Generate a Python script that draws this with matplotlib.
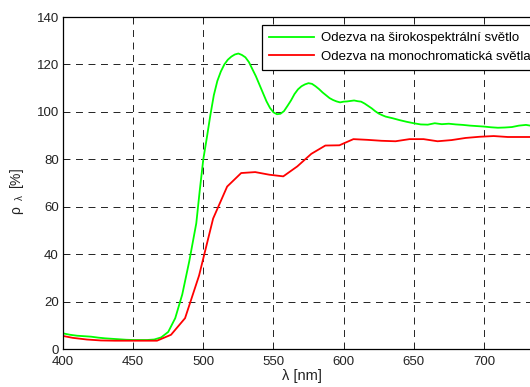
import matplotlib
matplotlib.use("Agg")
import matplotlib.pyplot as plt

plt.rcParams['font.family'] = ['Liberation Sans', 'DejaVu Sans']
plt.rcParams['mathtext.fontset'] = 'custom'
plt.rcParams['mathtext.rm'] = 'Liberation Sans'
plt.rcParams['mathtext.it'] = 'Liberation Sans'
plt.rcParams['lines.scale_dashes'] = False

# Broadband-light response (wavelength in nm, response in %)
wl_broad = [400, 405, 410, 415, 420, 425, 430, 435, 440, 445, 450, 455, 460, 465,
            470, 475, 480, 485, 490, 492.5, 495, 497.5, 500, 502.5, 505, 507.5,
            510, 512.5, 515, 517.5, 520, 522.5, 525, 527.5, 530, 532.5, 535,
            537.5, 540, 542.5, 545, 547.5, 550, 552.5, 555, 557.5, 560, 562.5,
            565, 567.5, 570, 572.5, 575, 577.5, 580, 582.5, 585, 587.5, 590,
            592.5, 595, 597.5, 600, 602.5, 605, 607.5, 610, 612.5, 615, 617.5,
            620, 622.5, 625, 627.5, 630, 635, 640, 645, 650, 655, 660, 665, 670,
            675, 680, 685, 690, 695, 700, 705, 710, 715, 720, 725, 730, 735, 740]
resp_broad = [6.6, 6.0, 5.6, 5.4, 5.2, 4.8, 4.5, 4.3, 4.1, 3.9, 3.8, 3.8, 3.8, 4.0,
              4.9, 7.2, 13.0, 23.0, 37.0, 45.0, 53.0, 67.0, 80.0, 89.0, 98.5, 107.0,
              113.0, 117.0, 120.0, 122.0, 123.3, 124.2, 124.6, 124.0, 123.0, 121.0, 118.0,
              115.0, 111.5, 108.0, 104.5, 101.7, 99.8, 99.0, 99.2, 100.3, 102.5, 104.8,
              107.5, 109.5, 110.8, 111.6, 112.1, 111.8, 110.8, 109.6, 108.2, 107.0, 105.8,
              105.0, 104.4, 104.0, 104.3, 104.4, 104.6, 104.8, 104.5, 104.3, 103.5, 102.5,
              101.5, 100.3, 99.3, 98.6, 98.0, 97.3, 96.5, 95.8, 95.2, 94.7, 94.6, 95.2, 94.8,
              95.0, 94.7, 94.5, 94.2, 94.0, 93.8, 93.5, 93.3, 93.4, 93.6, 94.2, 94.5, 94.0, 94.2]

# Monochromatic-light response
wl_mono = [400, 407, 417, 427, 437, 447, 457, 467, 477, 487, 497, 507, 517, 527,
           537, 547, 557, 567, 577, 587, 597, 607, 617, 627, 637, 647, 657, 667,
           677, 687, 697, 707, 717, 727, 737]
resp_mono = [5.5, 4.7, 4.0, 3.6, 3.5, 3.5, 3.5, 3.5, 6.0, 13.0, 31.0, 55.0, 68.5, 74.2,
             74.6, 73.5, 72.8, 77.0, 82.3, 85.8, 85.9, 88.5, 88.2, 87.8, 87.6, 88.5, 88.5,
             87.6, 88.1, 89.0, 89.5, 89.8, 89.4, 89.4, 89.4]

labels = ['Odezva na širokospektrální světlo', 'Odezva na monochromatická světla']
x_ticks = [400, 450, 500, 550, 600, 650, 700]
y_ticks = [0, 20, 40, 60, 80, 100, 120, 140]

fig = plt.figure(figsize=(5.30, 3.87), dpi=100)
# axes spans past the right edge of the figure
ax = fig.add_axes([63 / 530, 38 / 387, 477 / 530, 332 / 387])

ax.plot(wl_broad, resp_broad, color='#00ff00', lw=1.3, label=labels[0])
ax.plot(wl_mono, resp_mono, color='#ff0000', lw=1.3, label=labels[1])

ax.set_xlim(400, 740)
ax.set_ylim(0, 140)
ax.set_xticks(x_ticks)
ax.set_yticks(y_ticks)
ax.grid(True, color='black', lw=0.6, linestyle=(0, (5, 4)))
ax.set_axisbelow(True)
ax.tick_params(direction='in', length=4, width=0.7, top=True, right=True,
               labelsize=9.5, colors='#222222', labelcolor='#222222')
ax.tick_params(axis='x', pad=5)
ax.tick_params(axis='y', pad=3)
for s in ax.spines.values():
    s.set_linewidth(0.9)
    s.set_color('black')

ax.set_xlabel('λ [nm]', fontsize=10.5, labelpad=1, color='#222222')
ax.set_ylabel('$\\mathregular{ρ}\\;\\;{}_{\\mathregular{λ}}\\;\\;\\mathregular{[\\%]}$',
              fontsize=10, color='#222222')
ax.yaxis.set_label_coords(-0.078, 0.475)

leg = ax.legend(loc='upper left', bbox_to_anchor=((262 - 63) / 477, (349 - 25) / 332),
                borderaxespad=0, fontsize=9.5, handlelength=3.4, handletextpad=0.5,
                borderpad=0.55, labelspacing=0.45, fancybox=False, framealpha=1,
                edgecolor='black')
leg.get_frame().set_linewidth(0.9)

fig.savefig('out.png', dpi=100)
